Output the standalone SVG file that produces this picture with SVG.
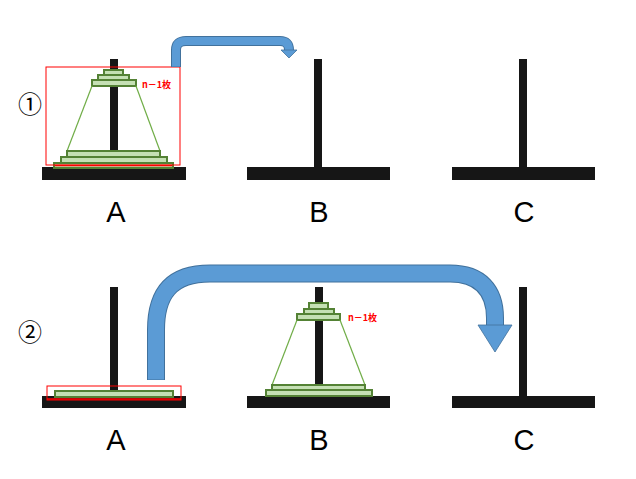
<svg xmlns="http://www.w3.org/2000/svg" width="636" height="479" viewBox="0 0 636 479">
<style>
.pole{fill:#161616}
.disk{fill:#C5E0B4;stroke:#548235;stroke-width:2}
.cone{fill:none;stroke:#70AD47;stroke-width:1.2}
.lbl{font-family:"Liberation Sans",Arial,sans-serif;font-size:29px;fill:#000;text-anchor:middle}
.n{font-family:"Noto Sans CJK JP","Liberation Sans",sans-serif;font-size:9px;font-weight:bold;fill:#FF0000}
.circ{font-family:"Noto Sans CJK JP","DejaVu Sans",sans-serif;font-size:24px;fill:#000;text-anchor:middle}
.arrowo{fill:none;stroke:#41719C}
.arrowi{fill:none;stroke:#5B9BD5}
</style>
<rect width="636" height="479" fill="#fff"/>
<g id="towerA1">
<rect class="pole" x="110" y="59" width="8" height="108"/>
<rect class="pole" x="42" y="167" width="144" height="13"/>
<rect class="disk" x="104" y="70" width="19" height="5"/>
<rect class="disk" x="98" y="75" width="31" height="5"/>
<rect class="disk" x="92" y="80" width="44" height="6"/>
<line class="cone" x1="92" y1="86" x2="67" y2="151"/>
<line class="cone" x1="136" y1="86" x2="160" y2="151"/>
<rect class="disk" x="67" y="151" width="93" height="6"/>
<rect class="disk" x="61" y="157" width="106" height="6"/>
<rect class="disk" x="54" y="163" width="119" height="5"/>
<line x1="55" y1="165.5" x2="172" y2="165.5" stroke="#FF0000" stroke-width="1.5"/>
<rect x="46" y="67" width="134" height="98" fill="none" stroke="#FF0000" stroke-width="1"/>
<text class="n" x="142" y="88">n－1枚</text>
</g>
<g id="towerB1">
<rect class="pole" x="314" y="59" width="8" height="108"/>
<rect class="pole" x="247" y="167" width="143" height="13"/>
</g>
<g id="towerC1">
<rect class="pole" x="519" y="59" width="8" height="108"/>
<rect class="pole" x="452" y="167" width="143" height="13"/>
</g>
<g id="towerA2">
<rect class="pole" x="110" y="287" width="8" height="109"/>
<rect class="pole" x="42" y="396" width="144" height="12"/>
<rect class="disk" x="55" y="391" width="118" height="6"/>
<line x1="47" y1="399" x2="181" y2="399" stroke="#FF0000" stroke-width="1.5"/>
<rect x="47" y="386" width="134" height="14" fill="none" stroke="#FF0000" stroke-width="1"/>
</g>
<g id="towerB2">
<rect class="pole" x="315" y="287" width="8" height="109"/>
<rect class="pole" x="247" y="396" width="143" height="12"/>
<rect class="disk" x="309" y="303" width="19" height="6"/>
<rect class="disk" x="304" y="309" width="30" height="5"/>
<rect class="disk" x="297" y="314" width="43" height="6"/>
<line class="cone" x1="297" y1="320" x2="272" y2="385"/>
<line class="cone" x1="340" y1="320" x2="365" y2="385"/>
<rect class="disk" x="272" y="385" width="93" height="5"/>
<rect class="disk" x="266" y="390" width="106" height="6"/>
<text class="n" x="348" y="321">n－1枚</text>
</g>
<g id="towerC2">
<rect class="pole" x="519" y="287" width="8" height="109"/>
<rect class="pole" x="452" y="396" width="143" height="12"/>
</g>
<g id="labels">
<text class="lbl" x="116" y="222">A</text>
<text class="lbl" x="319" y="222">B</text>
<text class="lbl" x="524" y="222">C</text>
<text class="lbl" x="116" y="450">A</text>
<text class="lbl" x="319" y="450">B</text>
<text class="lbl" x="524" y="450">C</text>
<text class="circ" x="30" y="113">①</text>
<text class="circ" x="30" y="341">②</text>
</g>
<g id="connectors">
<path class="arrowo" stroke-width="10" d="M176,67 V50 Q176,41 186,41 H280 Q289,41 289,50 V51"/>
<path class="arrowi" stroke-width="8" d="M176,66.5 V50 Q176,41 186,41 H280 Q289,41 289,50 V51"/>
<polygon points="281,50 297,50 289,58" fill="#5B9BD5" stroke="#41719C" stroke-width="0.8"/>
<path class="arrowo" stroke-width="18" d="M156,380 V330 C156,295 170,273.5 210,273.5 H450 C480,273.5 495,290 495,318 V326"/>
<path class="arrowi" stroke-width="16" d="M156,379.5 V330 C156,295 170,273.5 210,273.5 H450 C480,273.5 495,290 495,318 V326"/>
<polygon points="478,325 512,325 495,352" fill="#5B9BD5" stroke="#41719C" stroke-width="0.8"/>
</g>
</svg>
